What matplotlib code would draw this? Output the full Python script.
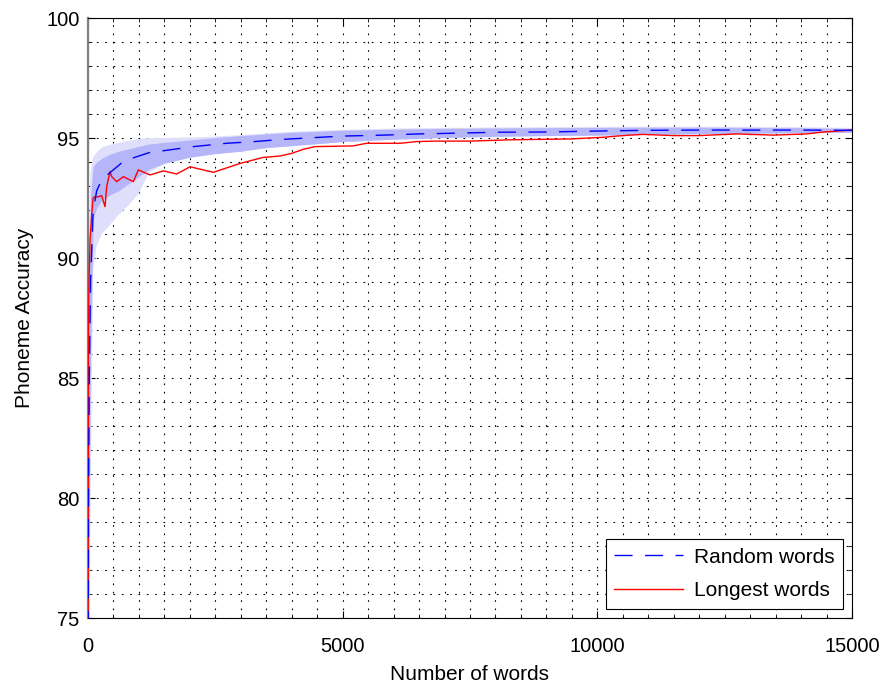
import matplotlib
matplotlib.use("Agg")
import matplotlib.pyplot as plt
from matplotlib.ticker import MultipleLocator

# ---- data ----
random_x = [0, 10, 25, 50, 100, 170, 270, 400, 660, 885, 1200, 1414, 2065, 2720, 3200,
            3800, 4300, 5000, 5800, 6500, 7200, 8000, 9000, 10000, 11000, 12000, 13000,
            14000, 15000]
random_y = [70, 80, 85, 89, 91.9, 92.8, 93.25, 93.5, 93.96, 94.17, 94.39, 94.45, 94.64,
            94.78, 94.84, 94.94, 95.0, 95.08, 95.12, 95.17, 95.2, 95.24, 95.25, 95.29,
            95.32, 95.33, 95.33, 95.33, 95.32]

band_x = [0, 20, 50, 100, 170, 270, 400, 600, 800, 1000, 1200, 1500, 2000, 2500, 3000,
          3500, 4000, 5000, 6000, 7000, 8000, 9000, 10000, 11000, 12000, 13000, 14000, 15000]
inner_hi = [78, 88, 92.6, 93.8, 94.0, 94.15, 94.3, 94.45, 94.55, 94.65, 94.75, 94.82,
            94.92, 95.02, 95.1, 95.17, 95.24, 95.32, 95.37, 95.4, 95.42, 95.43, 95.44,
            95.45, 95.45, 95.44, 95.43, 95.4]
inner_lo = [70, 78, 86, 91.6, 92.1, 92.4, 92.6, 92.8, 93.1, 93.4, 93.7, 93.95, 94.2,
            94.35, 94.45, 94.6, 94.68, 94.85, 94.95, 95.02, 95.07, 95.1, 95.12, 95.15,
            95.18, 95.2, 95.22, 95.24]
outer_hi = [80, 91, 93.6, 94.2, 94.4, 94.6, 94.7, 94.8, 94.88, 94.95, 95.0, 95.0, 95.02,
            95.06, 95.12, 95.19, 95.26, 95.34, 95.39, 95.42, 95.44, 95.45, 95.46, 95.47,
            95.47, 95.46, 95.45, 95.42]
outer_lo = [66, 72, 80, 89.5, 90.5, 91.0, 91.3, 91.8, 92.2, 92.7, 93.55, 93.92, 94.18,
            94.33, 94.43, 94.58, 94.66, 94.83, 94.93, 95.0, 95.05, 95.08, 95.1, 95.13,
            95.16, 95.18, 95.2, 95.22]

longest_x = [0, 5, 10, 20, 40, 72, 100, 137, 203, 268, 334, 367, 432, 465, 563, 694, 890,
             988, 1217, 1479, 1741, 2003, 2461, 2985, 3437, 3770, 4000, 4227, 4457, 5200,
             5472, 6126, 6454, 6813, 7500, 8221, 8745, 9470, 10118, 10380, 10642, 10900,
             11500, 12000, 12737, 13450, 14110, 14307, 14504, 15000]
longest_y = [70, 80, 87, 89, 90.75, 91.8, 92.5, 92.55, 92.55, 92.6, 92.14, 92.97, 93.6,
             93.39, 93.18, 93.39, 93.18, 93.67, 93.46, 93.63, 93.5, 93.8, 93.57, 93.94,
             94.19, 94.25, 94.36, 94.53, 94.64, 94.67, 94.78, 94.78, 94.85, 94.87, 94.87,
             94.92, 94.94, 94.96, 95.03, 95.08, 95.12, 95.15, 95.1, 95.1, 95.17, 95.12,
             95.17, 95.22, 95.26, 95.33]

x_ticks = [0, 5000, 10000, 15000]
y_ticks = [75, 80, 85, 90, 95, 100]

FONT = "Liberation Sans"
FS = 15
TFS = 14.5

fig = plt.figure(figsize=(8.85, 6.89), dpi=100)
ax = fig.add_axes([88 / 885, 1 - 618 / 689, (852 - 88) / 885, (618 - 18) / 689])

ax.fill_between(band_x, outer_lo, outer_hi, color="#dfdffb", linewidth=0, zorder=1)
ax.fill_between(band_x, inner_lo, inner_hi, color="#b5b5fa", linewidth=0, zorder=2)

ax.plot(random_x, random_y, color="#0000ff", linewidth=1.0, dashes=(13, 9),
        label="Random words", zorder=4)
ax.plot(longest_x, longest_y, color="#ff0000", linewidth=1.0,
        label="Longest words", zorder=3)

ax.set_xlim(0, 15000)
ax.set_ylim(75, 100)
ax.set_xticks(x_ticks)
ax.set_yticks(y_ticks)
ax.xaxis.set_minor_locator(MultipleLocator(500))
ax.yaxis.set_minor_locator(MultipleLocator(1))

ax.grid(which="both", color="black", linestyle=(0, (1.5, 6)), linewidth=0.8)
ax.set_axisbelow(True)

ax.tick_params(which="both", direction="in", top=True, right=True, labelsize=TFS)
ax.tick_params(axis="x", which="major", pad=14)
ax.tick_params(axis="y", which="major", pad=6)
ax.tick_params(which="major", length=5, width=0.8)
ax.tick_params(which="minor", length=3, width=0.6)
for lab in ax.get_xticklabels() + ax.get_yticklabels():
    lab.set_family(FONT)

for s in ax.spines.values():
    s.set_color("black")
    s.set_linewidth(0.8)
ax.spines["left"].set_color("#808080")
ax.spines["left"].set_linewidth(1.6)

ax.set_xlabel("Number of words", fontsize=FS, family=FONT, labelpad=6)
ax.set_ylabel("Phoneme Accuracy", fontsize=FS, family=FONT, labelpad=9)

leg = ax.legend(loc="lower right", prop={"family": FONT, "size": FS},
                frameon=True, fancybox=False, edgecolor="black", framealpha=1,
                handlelength=3.3, handletextpad=0.5, borderaxespad=0.45,
                labelspacing=0.7, borderpad=0.4)
leg.get_frame().set_linewidth(0.8)

fig.savefig("out.png", dpi=100)
